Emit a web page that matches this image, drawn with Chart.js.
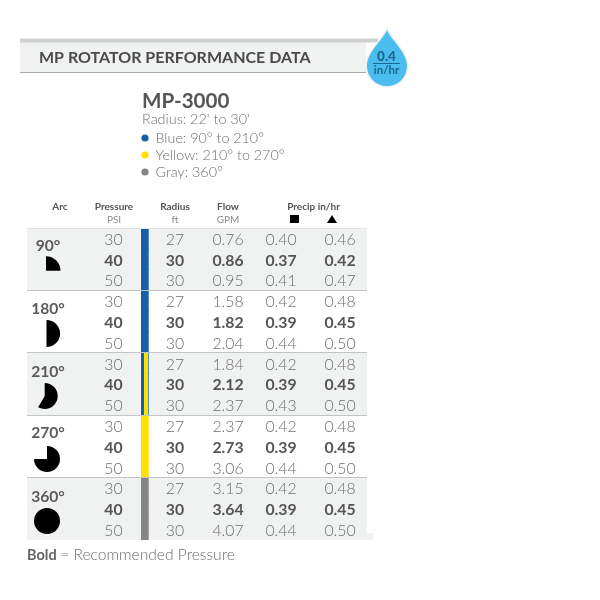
<!DOCTYPE html>
<html><head><meta charset="utf-8">
<style>html,body{margin:0;padding:0;background:#fff}canvas{display:block}</style>
<script src="https://cdn.jsdelivr.net/npm/chart.js@4"></script>
</head><body><canvas id="c" width="600" height="600"></canvas>
<script>
const chartTitle = "MP ROTATOR PERFORMANCE DATA";
const nozzle = "MP-3000";
const radiusNote = "Radius: 22' to 30'";
const legendLabels = ["Blue: 90° to 210°", "Yellow: 210° to 270°", "Gray: 360°"];
const arcLabels = ["90°", "180°", "210°", "270°", "360°"];
const arcDegrees = [90, 180, 210, 270, 360];
const rowLabels = ["90-30","90-40","90-50","180-30","180-40","180-50","210-30","210-40","210-50","270-30","270-40","270-50","360-30","360-40","360-50"];
const pressurePsi = [30,40,50,30,40,50,30,40,50,30,40,50,30,40,50];
const radiusFt = [27,30,30,27,30,30,27,30,30,27,30,30,27,30,30];
const flowGpm = ["0.76","0.86","0.95","1.58","1.82","2.04","1.84","2.12","2.37","2.37","2.73","3.06","3.15","3.64","4.07"];
const precipSquare = ["0.40","0.37","0.41","0.42","0.39","0.44","0.42","0.39","0.43","0.42","0.39","0.44","0.42","0.39","0.44"];
const precipTriangle = ["0.46","0.42","0.47","0.48","0.45","0.50","0.48","0.45","0.50","0.48","0.45","0.50","0.48","0.45","0.50"];

const FONT = 'Lato';
const columns = [
  {values: pressurePsi, x: 113.5},
  {values: radiusFt, x: 175},
  {values: flowGpm, x: 228},
  {values: precipSquare, x: 281},
  {values: precipTriangle, x: 340}
];
const rowsWhere = (test, v) => rowLabels.map((_, i) => test(i) ? v : null);
const barBase = {type:'bar', grouped:false, barPercentage:1.04, categoryPercentage:1, borderWidth:0, borderSkipped:false};
const datasets = [
  Object.assign({}, barBase, {order:1, label:'Yellow inset', backgroundColor:'#ffe000', data: rowsWhere(i => i>=6 && i<=8, [144,148])}),
  Object.assign({}, barBase, {order:2, label:'Blue', backgroundColor:'#1560a8', data: rowsWhere(i => i<=8, [141,148.7])}),
  Object.assign({}, barBase, {order:2, label:'Yellow', backgroundColor:'#ffe000', data: rowsWhere(i => i>=9 && i<=11, [141,148.7])}),
  Object.assign({}, barBase, {order:2, label:'Gray', backgroundColor:'#858585', data: rowsWhere(i => i>=12, [141,148.7])}),
  Object.assign({}, barBase, {order:3, label:'Band', barPercentage:1, backgroundColor:'#f0f1f1', data: rowsWhere(i => Math.floor(i/3)%2===0, [27,367])})
];
const firstCell = datasets.length;
columns.forEach((col, c) => datasets.push({
  type:'scatter', order:0, label:'col'+c, pointRadius:0, showLine:false,
  data: rowLabels.map(r => ({x: col.x, y: r}))
}));

function txt(ctx, s, x, y, font, color, align) {
  ctx.font = font; ctx.fillStyle = color; ctx.textAlign = align || 'left'; ctx.textBaseline = 'middle';
  ctx.fillText(s, x, y);
}
const LIGHT = '#6e6e6e';
const tablePlugin = {
  id:'table',
  beforeDatasetsDraw(chart) {
    const ctx = chart.ctx;
    ctx.save();
    ctx.fillStyle = '#f0f1f1'; ctx.fillRect(20, 42, 346, 30);
    ctx.fillStyle = '#cfd0d0'; ctx.fillRect(20, 38.5, 358, 4);
    ctx.fillStyle = '#a9abab'; ctx.fillRect(20, 72, 346, 1);
    ctx.fillStyle = '#f0f1f1'; ctx.fillRect(367, 533, 6, 7);
    ctx.restore();
  },
  afterDatasetsDraw(chart) {
    const ctx = chart.ctx;
    ctx.save();
    txt(ctx, chartTitle, 39, 58, `700 16px ${FONT}`, '#4a4a4a');

    ctx.beginPath();
    ctx.moveTo(387, 30);
    ctx.bezierCurveTo(391, 40, 407, 52, 407, 66);
    ctx.arc(387, 66, 20, 0, Math.PI);
    ctx.bezierCurveTo(367, 52, 383, 40, 387, 30);
    ctx.closePath();
    ctx.lineWidth = 3; ctx.strokeStyle = '#eef0f0'; ctx.stroke();
    ctx.fillStyle = '#4abcee'; ctx.fill();
    txt(ctx, "0.4", 386.5, 56.5, `900 13.5px ${FONT}`, '#19688e', 'center');
    ctx.fillStyle = '#19688e'; ctx.fillRect(373, 63, 27, 1);
    txt(ctx, "in/hr", 386.5, 70, `700 11.5px ${FONT}`, '#19688e', 'center');

    txt(ctx, nozzle, 142, 101, `700 20.6px ${FONT}`, '#555555');
    txt(ctx, radiusNote, 142, 119, `300 14.4px ${FONT}`, LIGHT);
    const dots = ['#1560a8', '#ffe000', '#858585'];
    legendLabels.forEach((l, i) => {
      const y = 138 + i*17;
      ctx.beginPath(); ctx.arc(145, y, 3.6, 0, 2*Math.PI); ctx.fillStyle = dots[i]; ctx.fill();
      txt(ctx, l, 155.5, y, `300 14.3px ${FONT}`, LIGHT);
    });

    const hb = `700 10px ${FONT}`, hn = `400 10px ${FONT}`;
    txt(ctx, "Arc", 60, 206.5, hb, '#555', 'center');
    txt(ctx, "Pressure", 114, 206.5, hb, '#555', 'center');
    txt(ctx, "PSI", 114, 219.5, hn, '#8a8a8a', 'center');
    txt(ctx, "Radius", 175, 206.5, hb, '#555', 'center');
    txt(ctx, "ft", 175, 219.5, hn, '#8a8a8a', 'center');
    txt(ctx, "Flow", 228, 206.5, hb, '#555', 'center');
    txt(ctx, "GPM", 228, 219.5, hn, '#8a8a8a', 'center');
    txt(ctx, "Precip in/hr", 313.5, 206.5, hb, '#555', 'center');
    ctx.fillStyle = '#000';
    ctx.fillRect(290, 215, 9, 8);
    ctx.beginPath(); ctx.moveTo(332, 215); ctx.lineTo(337, 223); ctx.lineTo(327, 223); ctx.closePath(); ctx.fill();

    columns.forEach((col, c) => {
      chart.getDatasetMeta(firstCell + c).data.forEach((pt, i) => {
        const bold = i % 3 === 1;
        txt(ctx, String(col.values[i]), pt.x, pt.y + 1.2,
            bold ? `700 15.8px ${FONT}` : `300 15.8px ${FONT}`, bold ? '#555555' : LIGHT, 'center');
      });
    });

    const yLbl = [246, 309, 371.7, 433, 496.7];
    const glyph = [[46,270.7,14.5],[46.5,333.5,13.6],[44.7,396,13],[47,459,13],[47,521,13]];
    arcLabels.forEach((l, i) => {
      txt(ctx, l, 48, yLbl[i], `700 15.6px ${FONT}`, '#5a5a5a', 'center');
      const [gx, gy, r] = glyph[i];
      const start = -Math.PI/2, end = start + arcDegrees[i]*Math.PI/180;
      ctx.beginPath();
      if (arcDegrees[i] < 360) ctx.moveTo(gx, gy);
      ctx.arc(gx, gy, r, start, end);
      ctx.closePath();
      ctx.fillStyle = '#000'; ctx.fill();
    });

    txt(ctx, "Bold", 27, 555, `700 14.5px ${FONT}`, '#666');
    ctx.font = `700 14.5px ${FONT}`;
    const w = ctx.measureText("Bold ").width;
    txt(ctx, "= Recommended Pressure", 27 + w, 555, `300 15.6px ${FONT}`, LIGHT);
    ctx.restore();
  }
};
new Chart(document.getElementById('c'), {
  data: {labels: rowLabels, datasets},
  options: {
    indexAxis:'y', responsive:false, animation:false, devicePixelRatio:1,
    layout:{padding:{left:27, right:233, top:228, bottom:60}},
    plugins:{legend:{display:false}, tooltip:{enabled:false}, title:{display:false}},
    scales:{
      x:{type:'linear', min:27, max:367, display:false},
      y:{type:'category', display:true, border:{display:false},
         ticks:{display:false, autoSkip:false},
         grid:{drawTicks:false, z:1, offset:true, lineWidth:1,
               color:c => c.index===0 ? '#e3e5e5' : (c.index%3===0 ? '#c3c5c5' : 'rgba(0,0,0,0)')}}
    }
  },
  plugins:[tablePlugin]
});
</script></body></html>
